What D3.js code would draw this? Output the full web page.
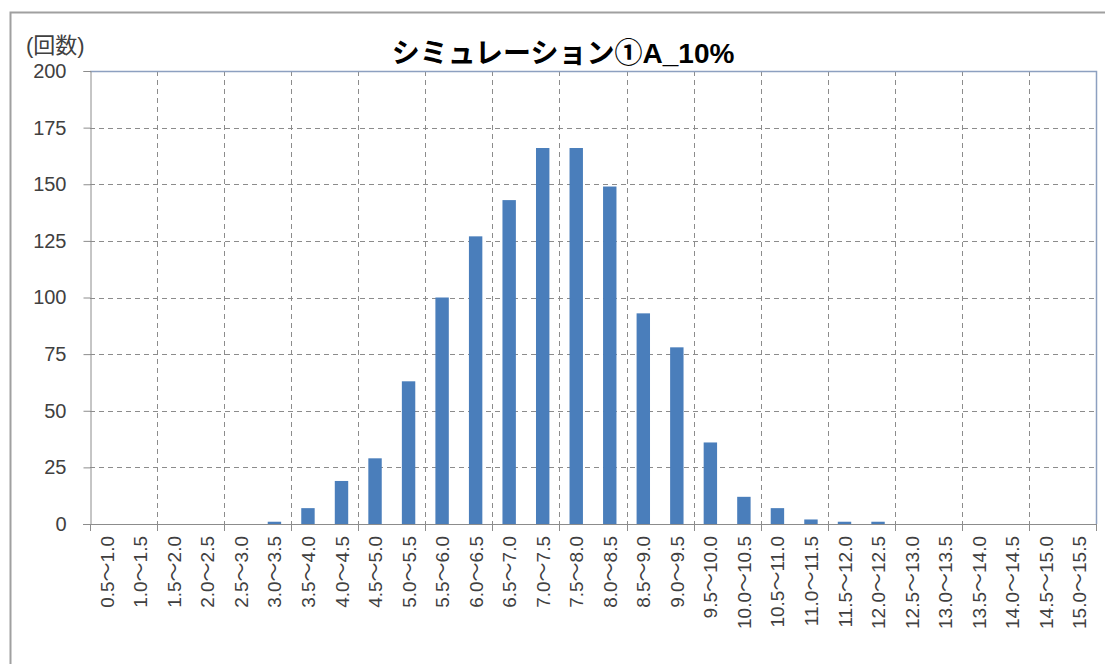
<!DOCTYPE html>
<html>
<head>
  <meta charset="utf-8">
  <script src="https://d3js.org/d3.v7.min.js"></script>
  <style type="text/css">
    body { margin: 0; background: #fff; }
    text { font-family: "Liberation Sans", Arial, "Noto Sans CJK JP", sans-serif; fill: #404040; }
  </style>
</head>
<body>
<svg id="chart" width="1105" height="664"></svg>

<script type="text/javascript">
// histogram bins and counts
const bins = ['0.5～1.0', '1.0～1.5', '1.5～2.0', '2.0～2.5', '2.5～3.0', '3.0～3.5', '3.5～4.0',
  '4.0～4.5', '4.5～5.0', '5.0～5.5', '5.5～6.0', '6.0～6.5', '6.5～7.0', '7.0～7.5', '7.5～8.0',
  '8.0～8.5', '8.5～9.0', '9.0～9.5', '9.5～10.0', '10.0～10.5', '10.5～11.0', '11.0～11.5',
  '11.5～12.0', '12.0～12.5', '12.5～13.0', '13.0～13.5', '13.5～14.0', '14.0～14.5', '14.5～15.0', '15.0～15.5'];
const counts = [0, 0, 0, 0, 0, 1, 7, 19, 29, 63, 100, 127, 143, 166, 166, 149, 93, 78, 36, 12, 7, 2, 1, 1, 0, 0, 0, 0, 0, 0];
const yTicks = [0, 25, 50, 75, 100, 125, 150, 175, 200];
const title = 'シミュレーション①A_10%';
const yUnit = '(回数)';

const svg = d3.select('#chart');
const pL = 90, pR = 1096, pT = 71, pB = 524;

// outer chart border
svg.append('rect')
  .attr('x', 10.5).attr('y', 12.5)
  .attr('width', 1110).attr('height', 700)
  .attr('fill', 'none').attr('stroke', '#a0a0a0').attr('stroke-width', 2);

const x = d3.scaleBand().domain(bins).range([pL, pR]).paddingInner(0.6).paddingOuter(0.3);
const y = d3.scaleLinear().domain([0, 200]).range([pB, pT]);
const step = x.step();
const edge = i => pL + i * step;  // boundary between categories

// horizontal dashed grid
svg.append('g').selectAll('line').data(yTicks.slice(1, -1))
  .enter().append('line')
  .attr('x1', pL).attr('x2', pR)
  .attr('y1', d => Math.round(y(d)) + 0.5).attr('y2', d => Math.round(y(d)) + 0.5)
  .attr('stroke', '#8c8c8c').attr('stroke-dasharray', '5,4');

// vertical dashed grid every 2 categories
const vIdx = d3.range(2, bins.length, 2);
svg.append('g').selectAll('line').data(vIdx)
  .enter().append('line')
  .attr('x1', d => Math.round(edge(d)) + 0.5).attr('x2', d => Math.round(edge(d)) + 0.5)
  .attr('y1', pT).attr('y2', pB)
  .attr('stroke', '#8c8c8c').attr('stroke-dasharray', '5,4');

// plot area top / right border
svg.append('path')
  .attr('d', `M${pL},${pT + 0.5}H${pR + 0.5}V${pB}`)
  .attr('fill', 'none').attr('stroke', '#8da0c0').attr('stroke-width', 1.5);

// bars
svg.append('g').selectAll('rect').data(counts)
  .enter().append('rect')
  .attr('x', (d, i) => x(bins[i]))
  .attr('width', x.bandwidth())
  .attr('y', d => y(d))
  .attr('height', d => pB - y(d))
  .attr('fill', '#4a7ebb');

// y axis
const yAxis = svg.append('g')
  .attr('transform', `translate(${pL + 0.5},0)`)
  .call(d3.axisLeft(y).tickValues(yTicks).tickSize(7).tickPadding(17));
yAxis.select('.domain').attr('stroke', '#8c8c8c');
yAxis.selectAll('.tick line').attr('stroke', '#8c8c8c');
yAxis.selectAll('.tick text').attr('font-size', 20).attr('font-family', null).style('fill', '#404040');

// x axis line + ticks every 2 categories
svg.append('line')
  .attr('x1', pL - 7).attr('x2', pR + 1)
  .attr('y1', pB + 0.5).attr('y2', pB + 0.5)
  .attr('stroke', '#8c8c8c');
svg.append('g').selectAll('line').data(d3.range(0, bins.length + 1, 2))
  .enter().append('line')
  .attr('x1', d => Math.round(edge(d)) + 0.5).attr('x2', d => Math.round(edge(d)) + 0.5)
  .attr('y1', pB).attr('y2', pB + 7)
  .attr('stroke', '#8c8c8c');

// rotated category labels
svg.append('g').selectAll('text').data(bins)
  .enter().append('text')
  .attr('transform', d => `translate(${x(d) + x.bandwidth() / 2 + 7},${pB + 12}) rotate(-90)`)
  .attr('text-anchor', 'end')
  .attr('font-size', 19)
  .text(d => d);

// title and unit
svg.append('text')
  .attr('x', 563).attr('y', 63)
  .attr('text-anchor', 'middle')
  .attr('font-size', 28).attr('font-weight', 'bold')
  .style('fill', '#000')
  .text(title);

svg.append('text')
  .attr('x', 26).attr('y', 53)
  .attr('font-size', 22)
  .text(yUnit);
</script>
</body>
</html>
